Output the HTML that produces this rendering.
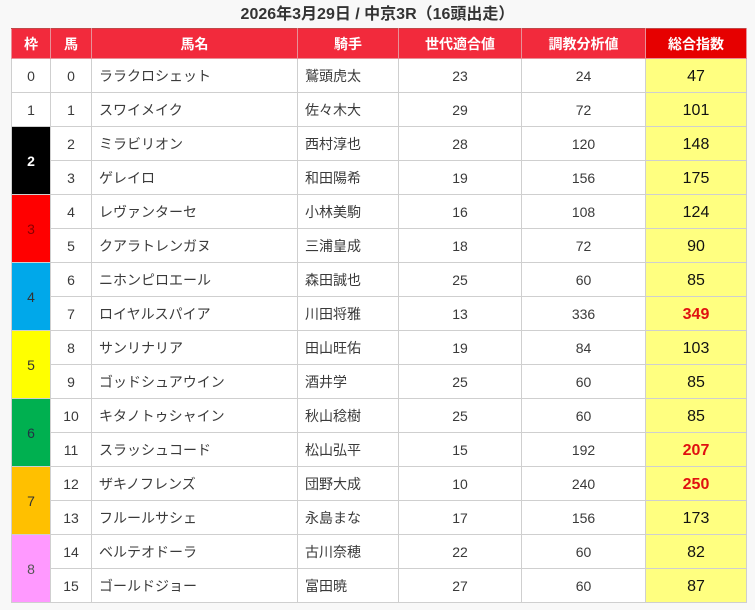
<!DOCTYPE html>
<html><head><meta charset="utf-8">
<style>
html,body{margin:0;padding:0;}
body{width:755px;height:610px;background:#f8f8f8;font-family:"Liberation Sans","Noto Sans CJK JP",sans-serif;position:relative;overflow:hidden;}
.title{position:absolute;left:0;top:4px;width:755px;text-align:center;font-size:16px;font-weight:bold;color:#333;line-height:22px;}
table{position:absolute;left:11px;top:28px;border-collapse:collapse;table-layout:fixed;width:735px;background:#fff;}
th{background:#f22a3c;color:#fff;font-weight:bold;font-size:14px;height:29px;padding:0;border:1px solid #e89098;border-top:1px solid #c04848;text-align:center;}
th.tot{background:#e60000;}
td{border:1px solid #cfcfcf;height:33px;padding:0;font-size:14px;color:#3a3a3a;text-align:center;}
td.l{text-align:left;padding-left:7px;}
td.t{background:#ffff80;font-size:16px;color:#111;padding-top:3px;height:30px;}
td.r{color:#e01010;font-weight:bold;}
.f2{background:#000;color:#fff;font-weight:bold;}
.f3{background:#ff0000;color:#8a0000;}
.f4{background:#00a8ea;color:#333;}
.f5{background:#ffff00;color:#333;}
.f6{background:#00b050;color:#234;}
.f7{background:#ffc000;color:#333;}
.f8{background:#ff99ff;color:#555;}
</style></head><body>
<div class="title">2026年3月29日 / 中京3R（16頭出走）</div>
<table>
<colgroup><col style="width:39px"><col style="width:41px"><col style="width:206px"><col style="width:101px"><col style="width:123px"><col style="width:124px"><col style="width:101px"></colgroup>
<tr><th>枠</th><th>馬</th><th>馬名</th><th>騎手</th><th>世代適合値</th><th>調教分析値</th><th class="tot">総合指数</th></tr>
<tr><td>0</td><td>0</td><td class="l">ララクロシェット</td><td class="l">鷲頭虎太</td><td>23</td><td>24</td><td class="t">47</td></tr>
<tr><td>1</td><td>1</td><td class="l">スワイメイク</td><td class="l">佐々木大</td><td>29</td><td>72</td><td class="t">101</td></tr>
<tr><td rowspan="2" class="f2">2</td><td>2</td><td class="l">ミラビリオン</td><td class="l">西村淳也</td><td>28</td><td>120</td><td class="t">148</td></tr>
<tr><td>3</td><td class="l">ゲレイロ</td><td class="l">和田陽希</td><td>19</td><td>156</td><td class="t">175</td></tr>
<tr><td rowspan="2" class="f3">3</td><td>4</td><td class="l">レヴァンターセ</td><td class="l">小林美駒</td><td>16</td><td>108</td><td class="t">124</td></tr>
<tr><td>5</td><td class="l">クアラトレンガヌ</td><td class="l">三浦皇成</td><td>18</td><td>72</td><td class="t">90</td></tr>
<tr><td rowspan="2" class="f4">4</td><td>6</td><td class="l">ニホンピロエール</td><td class="l">森田誠也</td><td>25</td><td>60</td><td class="t">85</td></tr>
<tr><td>7</td><td class="l">ロイヤルスパイア</td><td class="l">川田将雅</td><td>13</td><td>336</td><td class="t r">349</td></tr>
<tr><td rowspan="2" class="f5">5</td><td>8</td><td class="l">サンリナリア</td><td class="l">田山旺佑</td><td>19</td><td>84</td><td class="t">103</td></tr>
<tr><td>9</td><td class="l">ゴッドシュアウイン</td><td class="l">酒井学</td><td>25</td><td>60</td><td class="t">85</td></tr>
<tr><td rowspan="2" class="f6">6</td><td>10</td><td class="l">キタノトゥシャイン</td><td class="l">秋山稔樹</td><td>25</td><td>60</td><td class="t">85</td></tr>
<tr><td>11</td><td class="l">スラッシュコード</td><td class="l">松山弘平</td><td>15</td><td>192</td><td class="t r">207</td></tr>
<tr><td rowspan="2" class="f7">7</td><td>12</td><td class="l">ザキノフレンズ</td><td class="l">団野大成</td><td>10</td><td>240</td><td class="t r">250</td></tr>
<tr><td>13</td><td class="l">フルールサシェ</td><td class="l">永島まな</td><td>17</td><td>156</td><td class="t">173</td></tr>
<tr><td rowspan="2" class="f8">8</td><td>14</td><td class="l">ベルテオドーラ</td><td class="l">古川奈穂</td><td>22</td><td>60</td><td class="t">82</td></tr>
<tr><td>15</td><td class="l">ゴールドジョー</td><td class="l">富田暁</td><td>27</td><td>60</td><td class="t">87</td></tr>
</table>
</body></html>
